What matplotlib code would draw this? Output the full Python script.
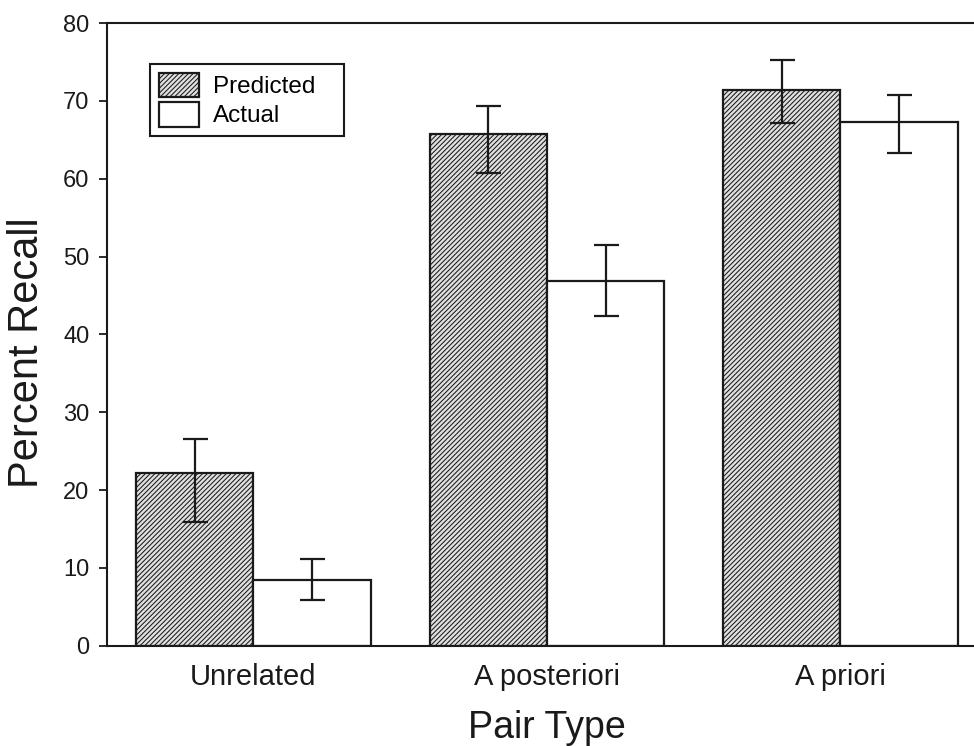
import matplotlib
matplotlib.use('Agg')
import matplotlib.pyplot as plt
import numpy as np

plt.rcParams['font.family'] = ['Liberation Sans', 'DejaVu Sans']
plt.rcParams['hatch.linewidth'] = 0.75
plt.rcParams['hatch.color'] = '#333333'

# 数据
pair_types = ['Unrelated', 'A posteriori', 'A priori']
predicted = [22.2, 65.8, 71.4]
predicted_err_hi = [26.6, 69.3, 75.3]
predicted_err_lo = [15.9, 60.7, 67.2]
actual = [8.4, 46.9, 67.3]
actual_err_hi = [11.1, 51.5, 70.7]
actual_err_lo = [5.9, 42.3, 63.3]

bar_width = 0.4
x = np.arange(len(pair_types))

fig = plt.figure(figsize=(9.74, 7.46), dpi=100)
# 右边界在图外（原图被裁切）
ax = fig.add_axes([0.1096, 0.1345, 0.9038, 0.8345])

pred_err = [np.array(predicted) - np.array(predicted_err_lo),
            np.array(predicted_err_hi) - np.array(predicted)]
act_err = [np.array(actual) - np.array(actual_err_lo),
           np.array(actual_err_hi) - np.array(actual)]

ax.bar(x - bar_width / 2, predicted, width=bar_width, facecolor='#e0e0e0',
       edgecolor='#1a1a1a', linewidth=1.6, hatch='///////', label='Predicted   ')
ax.bar(x + bar_width / 2, actual, width=bar_width, facecolor='white',
       edgecolor='#1a1a1a', linewidth=1.6, label='Actual')

ax.errorbar(x - bar_width / 2, predicted, yerr=pred_err, fmt='none',
            ecolor='#1a1a1a', elinewidth=1.6, capsize=9, capthick=1.6)
ax.errorbar(x + bar_width / 2, actual, yerr=act_err, fmt='none',
            ecolor='#1a1a1a', elinewidth=1.6, capsize=9, capthick=1.6)

ax.set_xlim(-0.5, 2.5)
ax.set_ylim(0, 80)
ax.set_yticks(np.arange(0, 81, 10))
ax.set_xticks(x)
ax.set_xticklabels(pair_types, fontsize=21)
ax.tick_params(axis='x', length=0, pad=12.5, colors='#1a1a1a')
ax.tick_params(axis='y', direction='out', length=5.5, width=1.3, pad=7,
               labelsize=17, colors='#1a1a1a')

for side in ['left', 'bottom', 'top']:
    ax.spines[side].set_linewidth(1.5)
    ax.spines[side].set_color('#1a1a1a')
ax.spines['right'].set_visible(False)

ax.set_xlabel('Pair Type', fontsize=27, color='#1a1a1a')
ax.xaxis.set_label_coords(0.5, -0.104)
ax.set_ylabel('Percent Recall', fontsize=30, color='#1a1a1a')
ax.yaxis.set_label_coords(-0.0675, 0.47)

leg = ax.legend(loc='upper left', bbox_to_anchor=(150 / 974, 1 - 64 / 746),
                bbox_transform=fig.transFigure, borderaxespad=0,
                fontsize=17.5, fancybox=False, framealpha=1, edgecolor='#1a1a1a',
                handlelength=1.65, handleheight=1.2, labelspacing=0.15,
                borderpad=0.35, handletextpad=0.6)
leg.get_frame().set_linewidth(1.5)

fig.savefig('out.png', dpi=100)
